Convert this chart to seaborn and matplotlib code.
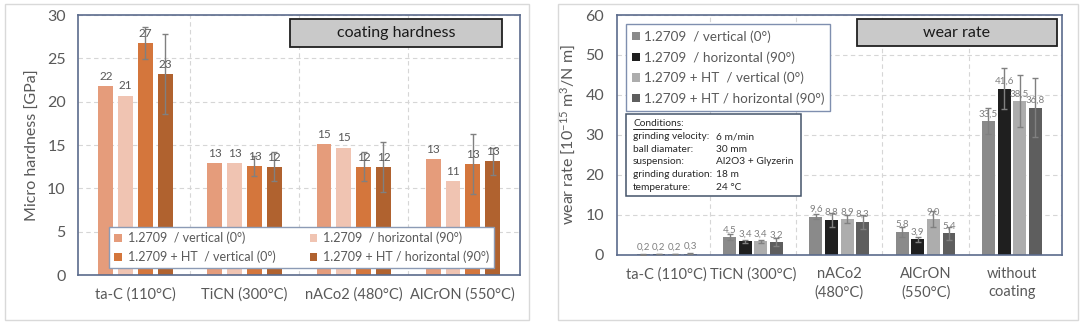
import numpy as np
import pandas as pd
import matplotlib
matplotlib.use("Agg")
import matplotlib.pyplot as plt
import seaborn as sns
from matplotlib.patches import Rectangle
from matplotlib.lines import Line2D

# ---------------- data ----------------
series = ["1.2709  / vertical (0°)", "1.2709  / horizontal (90°)",
          "1.2709 + HT  / vertical (0°)", "1.2709 + HT / horizontal (90°)"]

hard_cats = ["ta-C (110°C)", "TiCN (300°C)", "nACo2 (480°C)", "AlCrON (550°C)"]
hard_vert = [21.8, 12.9, 15.1, 13.4]
hard_horiz = [20.7, 12.95, 14.7, 10.8]
hard_ht_vert = [26.8, 12.6, 12.5, 12.8]
hard_ht_horiz = [23.2, 12.5, 12.5, 13.1]
hard_err_ht_vert = [1.85, 1.15, 1.65, 3.5]
hard_err_ht_horiz = [4.65, 1.7, 2.9, 1.6]
hard_lab_vert = ["22", "13", "15", "13"]
hard_lab_horiz = ["21", "13", "15", "11"]
hard_lab_ht_vert = ["27", "13", "12", "13"]
hard_lab_ht_horiz = ["23", "12", "12", "13"]

wear_cats = ["ta-C (110°C)", "TiCN (300°C)", "nACo2\n(480°C)", "AlCrON\n(550°C)", "without\ncoating"]
wear_vert = [0.2, 4.5, 9.6, 5.8, 33.5]
wear_horiz = [0.2, 3.4, 8.8, 3.9, 41.6]
wear_ht_vert = [0.2, 3.4, 8.9, 9.0, 38.5]
wear_ht_horiz = [0.3, 3.2, 8.3, 5.4, 36.8]
wear_err_vert = [0.1, 0.8, 0.7, 1.3, 3.2]
wear_err_horiz = [0.05, 0.4, 1.8, 0.7, 5.2]
wear_err_ht_vert = [0.05, 0.3, 1.0, 2.0, 6.5]
wear_err_ht_horiz = [0.1, 1.0, 1.8, 1.7, 7.4]

conditions = [("grinding velocity:", "6 m/min"), ("ball diamater:", "30 mm"),
              ("suspension:", "Al2O3 + Glyzerin"), ("grinding duration:", "18 m"),
              ("temperature:", "24 °C")]

hard_colors = ["#E59C7B", "#F0C4B2", "#D4763C", "#B0622F"]
wear_colors = ["#8A8A8A", "#1F1F1F", "#ADADAD", "#5E5E5E"]

# ---------------- style ----------------
sns.set_style("white")
plt.rcParams["font.family"] = ["Lato", "DejaVu Sans"]
plt.rcParams["mathtext.default"] = "regular"
TXT = "#595959"
SPINE = "#5B6B8C"


def long_df(cats, cols):
    rows = []
    for s, vals in zip(series, cols):
        for c, v in zip(cats, vals):
            rows.append({"cat": c, "series": s, "val": v})
    return pd.DataFrame(rows)


def style_axes(ax, ncat):
    for sp in ax.spines.values():
        sp.set_color(SPINE)
        sp.set_linewidth(1.2)
    ax.set_axisbelow(True)
    ax.grid(axis="y", which="major", ls=(0, (4, 3)), color="#D6D6D6", lw=0.8)
    ax.set_xticks(np.arange(0.5, ncat - 1), minor=True)
    ax.grid(axis="x", which="minor", ls=(0, (4, 3)), color="#D6D6D6", lw=0.8)
    ax.grid(axis="x", which="major", visible=False)
    ax.tick_params(axis="both", which="both", length=0, colors=TXT)
    ax.tick_params(axis="y", labelsize=11.5, pad=9)
    ax.tick_params(axis="x", labelsize=10.5, pad=9)
    ax.set_xlabel("")


fig = plt.figure(figsize=(10.87, 3.24), dpi=100)

# outer frames
for x0, w in [(0.0043, 0.4828), (0.5136, 0.4781)]:
    fig.add_artist(Rectangle((x0, 0.0123), w, 0.975, transform=fig.transFigure,
                             fill=False, edgecolor="#D9D9D9", lw=1.0))

# ---------------- left: hardness ----------------
ax1 = fig.add_axes([0.0720, 0.1512, 0.4064, 0.8025])
df1 = long_df(hard_cats, [hard_vert, hard_horiz, hard_ht_vert, hard_ht_horiz])
sns.barplot(data=df1, x="cat", y="val", hue="series", palette=hard_colors,
            saturation=1, width=0.725, gap=0.25, errorbar=None,
            edgecolor="none", linewidth=0, ax=ax1)
ax1.set_ylim(0, 30)
ax1.set_yticks(np.arange(0, 31, 5))
style_axes(ax1, len(hard_cats))
ax1.set_ylabel("Micro hardness [GPa]", fontsize=11.5, color=TXT, labelpad=5)

errs1 = [None, None, hard_err_ht_vert, hard_err_ht_horiz]
labs1 = [hard_lab_vert, hard_lab_horiz, hard_lab_ht_vert, hard_lab_ht_horiz]
for cont, err, lab in zip(ax1.containers, errs1, labs1):
    xs = [b.get_x() + b.get_width() / 2 for b in cont]
    hs = [b.get_height() for b in cont]
    if err is not None:
        ax1.errorbar(xs, hs, yerr=err, fmt="none", ecolor="#808080",
                     elinewidth=1.0, capsize=2.2, capthick=1.0, zorder=3)
    ax1.bar_label(cont, labels=lab, padding=3, fontsize=8.5, color=TXT, zorder=4)

h1, l1 = ax1.get_legend_handles_labels()
order = [0, 2, 1, 3]
ax1.legend([h1[i] for i in order], [l1[i] for i in order], loc="lower left",
           bbox_to_anchor=(0.0706, 0.026, 0.871, 0.16),
           mode="expand", ncol=2, fontsize=9, frameon=True, fancybox=False,
           framealpha=1, edgecolor="#8C9BB5", handlelength=0.6, handleheight=0.6,
           handletextpad=0.45, labelspacing=0.5, borderpad=0.4, borderaxespad=0,
           columnspacing=1.0, labelcolor=TXT).set_zorder(5)

ax1.add_patch(Rectangle((0.479, 0.878), 0.48, 0.105, transform=ax1.transAxes,
                        facecolor="#C9C9C9", edgecolor="#202020", lw=1.3, zorder=5))
ax1.text(0.719, 0.9305, "coating hardness", transform=ax1.transAxes, ha="center",
         va="center", fontsize=11.5, color="#1A1A1A", zorder=6)

# ---------------- right: wear rate ----------------
ax2 = fig.add_axes([0.5673, 0.2130, 0.4097, 0.7407])
df2 = long_df(wear_cats, [wear_vert, wear_horiz, wear_ht_vert, wear_ht_horiz])
sns.barplot(data=df2, x="cat", y="val", hue="series", palette=wear_colors,
            saturation=1, width=0.724, gap=0.17, errorbar=None,
            edgecolor="none", linewidth=0, ax=ax2)
ax2.set_ylim(0, 60)
ax2.set_yticks(np.arange(0, 61, 10))
style_axes(ax2, len(wear_cats))
for t in ax2.get_xticklabels():
    t.set_linespacing(1.35)
ax2.set_ylabel("wear rate [10$^{-15}$ m$^{3}$/N m]", fontsize=11.5, color=TXT, labelpad=5)

errs2 = [wear_err_vert, wear_err_horiz, wear_err_ht_vert, wear_err_ht_horiz]
vals2 = [wear_vert, wear_horiz, wear_ht_vert, wear_ht_horiz]
for cont, err, vals in zip(ax2.containers, errs2, vals2):
    xs = [b.get_x() + b.get_width() / 2 for b in cont]
    hs = [b.get_height() for b in cont]
    ax2.errorbar(xs, hs, yerr=err, fmt="none", ecolor="#808080",
                 elinewidth=1.0, capsize=2.2, capthick=1.0, zorder=3)
    ax2.bar_label(cont, labels=[f"{v:.1f}".replace(".", ",") for v in vals],
                  padding=2, fontsize=7, color="#808080", zorder=4)

h2, l2 = ax2.get_legend_handles_labels()
ax2.legend(h2, l2, loc="upper left", bbox_to_anchor=(0.02, 0.961),
           ncol=1, fontsize=9.7, frameon=True, fancybox=False,
           framealpha=1, edgecolor="#7F8FAF", handlelength=0.6, handleheight=0.6,
           handletextpad=0.3, labelspacing=0.6, borderpad=0.45,
           borderaxespad=0, labelcolor=TXT).set_zorder(5)

# conditions box
ax2.add_patch(Rectangle((0.022, 0.246), 0.3925, 0.3415, transform=ax2.transAxes,
                        facecolor="white", edgecolor="#44546A", lw=1.1, zorder=5))
ax2.text(0.037, 0.549, "Conditions:", transform=ax2.transAxes, ha="left", va="center",
         fontsize=7.3, color="#262626", zorder=6)
ax2.add_line(Line2D([0.037, 0.1446], [0.524, 0.524], transform=ax2.transAxes,
                    color="#262626", lw=0.7, zorder=6))
ys = [0.493, 0.439, 0.3875, 0.3346, 0.280]
for (k, v), y in zip(conditions, ys):
    ax2.text(0.037, y, k, transform=ax2.transAxes, ha="left", va="center",
             fontsize=7.3, color="#262626", zorder=6)
    ax2.text(0.224, y, v, transform=ax2.transAxes, ha="left", va="center",
             fontsize=7.3, color="#262626", zorder=6)

ax2.add_patch(Rectangle((0.539, 0.871), 0.449, 0.112, transform=ax2.transAxes,
                        facecolor="#C9C9C9", edgecolor="#202020", lw=1.3, zorder=5))
ax2.text(0.7635, 0.927, "wear rate", transform=ax2.transAxes, ha="center",
         va="center", fontsize=11.5, color="#1A1A1A", zorder=6)

fig.savefig("out.png", dpi=100)
